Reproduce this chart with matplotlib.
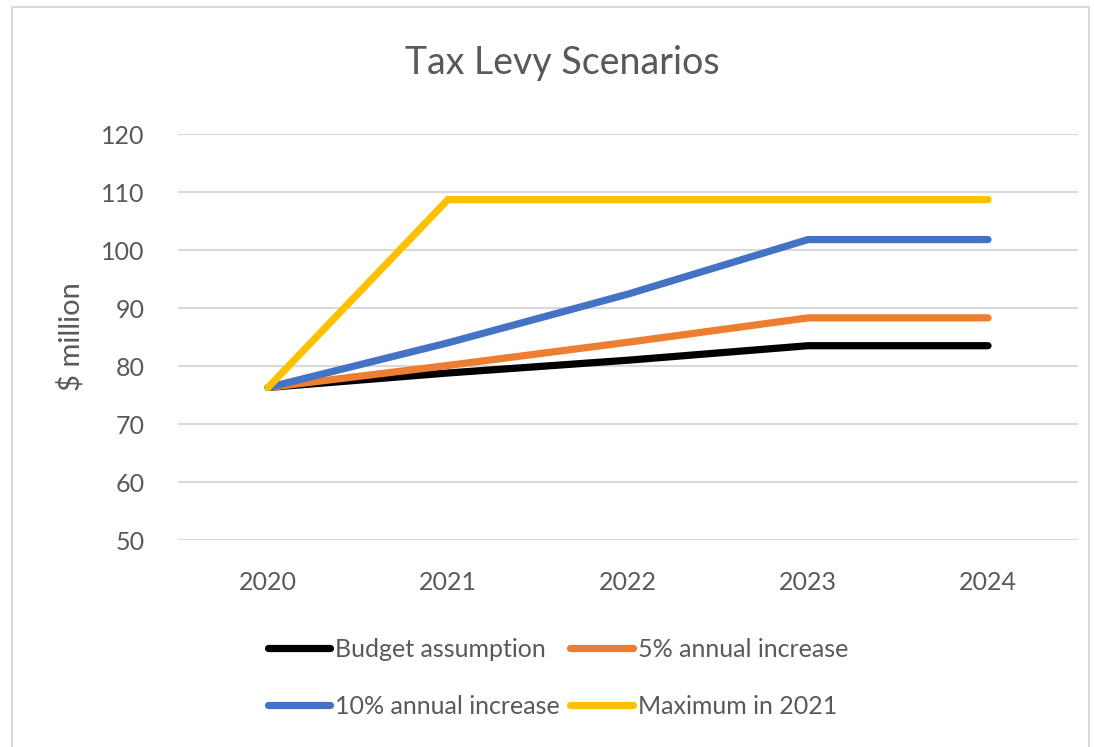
import matplotlib
matplotlib.use('Agg')
import matplotlib.pyplot as plt
from matplotlib.patches import Rectangle

# Data
years = ['2020', '2021', '2022', '2023', '2024']
budget = [76.3, 78.8, 81.0, 83.5, 83.5]
five_pct = [76.3, 80.1, 84.1, 88.3, 88.3]
ten_pct = [76.3, 84.0, 92.4, 101.8, 101.8]
max_2021 = [76.3, 108.7, 108.7, 108.7, 108.7]

series = [
    ('Budget assumption', budget, '#000000'),
    ('5% annual increase', five_pct, '#ED7D31'),
    ('10% annual increase', ten_pct, '#4472C4'),
    ('Maximum in 2021', max_2021, '#FFC000'),
]

plt.rcParams.update({'font.family': ['Lato', 'DejaVu Sans']})
txt = '#595959'

fig = plt.figure(figsize=(10.94, 7.47), dpi=100)
ax = fig.add_axes([0.1627, 0.2771, 0.8227, 0.5435])

x = list(range(len(years)))
lines = {}
for name, vals, col in series:
    ln, = ax.plot(x, vals, color=col, lw=5.2, solid_capstyle='round',
                  solid_joinstyle='miter', label=name, zorder=3)
    lines[name] = ln

ax.set_xlim(-0.5, len(years) - 0.5)
ax.set_ylim(50, 120)
ax.set_yticks(range(50, 121, 10))
ax.set_xticks(x)
ax.set_xticklabels(years)
ax.grid(axis='y', color='#d9d9d9', lw=1.5, zorder=0)
for s in ax.spines.values():
    s.set_visible(False)
ax.tick_params(length=0, labelsize=18, colors=txt)
ax.tick_params(axis='x', pad=22)
ax.tick_params(axis='y', pad=24)
ax.set_ylabel('\\$ million', fontsize=21, color=txt, labelpad=12)

fig.text(0.514, 0.915, 'Tax Levy Scenarios', ha='center', va='center',
         fontsize=27, color=txt)

order = ['Budget assumption', '10% annual increase',
         '5% annual increase', 'Maximum in 2021']
fig.legend([lines[n] for n in order], order, ncol=2, frameon=False,
           loc='center', bbox_to_anchor=(0.51, 0.0924), fontsize=18,
           labelcolor=txt, handlelength=2.5, handletextpad=0.2,
           columnspacing=0.4, labelspacing=1.38)

# chart frame
fig.patches.append(Rectangle((12 / 1094, -0.01), 1077 / 1094, 1 - 7 / 747 + 0.01,
                             transform=fig.transFigure, fill=False,
                             edgecolor='#d9d9d9', lw=1.5))

fig.savefig('out.png', dpi=100)
